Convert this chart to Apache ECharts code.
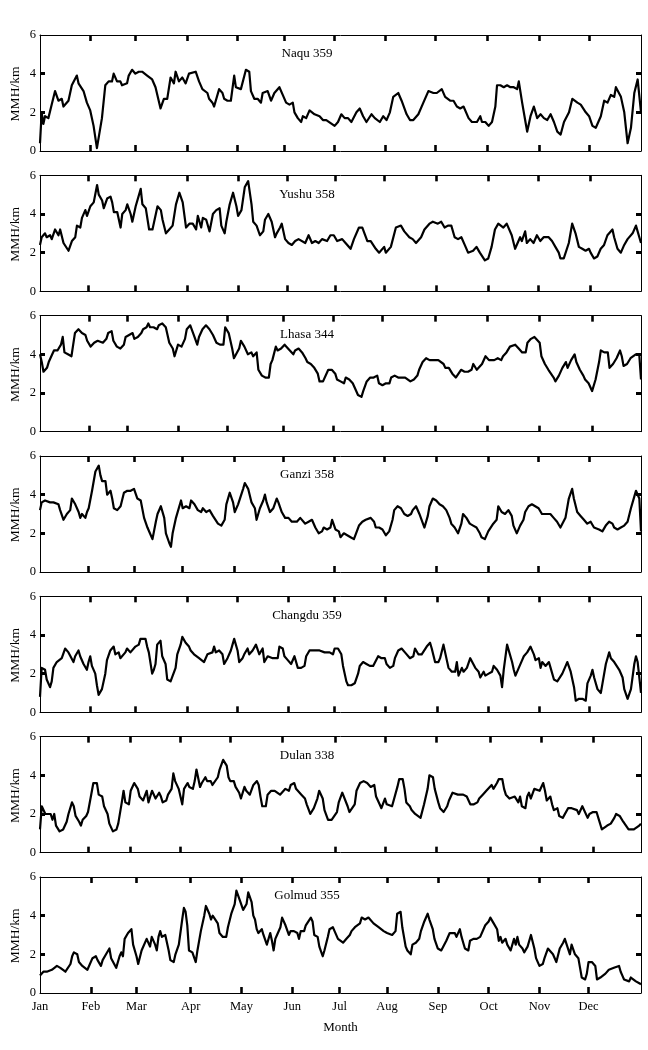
<!DOCTYPE html>
<html>
<head>
<meta charset="utf-8">
<script src="https://cdn.jsdelivr.net/npm/echarts@6/dist/echarts.min.js"></script>
<style>html,body{margin:0;padding:0;background:#fff}#c{width:648px;height:1050px}</style>
</head>
<body>
<div id="c"></div>
<script>
// ---- data: [day index, MMH/km] ----
const stationNames = ['Naqu 359','Yushu 358','Lhasa 344','Ganzi 358','Changdu 359','Dulan 338','Golmud 355'];
const dayCounts = [359, 358, 344, 358, 359, 338, 355];
const monthNames = ['Jan','Feb','Mar','Apr','May','Jun','Jul','Aug','Sep','Oct','Nov','Dec'];

const naquTicks = [30,57,88,118,146,176,206,236,267,298,328];
const yushuTicks = [29,57,88,118,147,176,205,236,267,297,328];
const lhasaTicks = [28,50,79,107,139,168,196,226,256,286,316];
const ganziTicks = [29,56,85,116,145,175,205,236,267,297,327];
const changduTicks = [30,57,88,118,148,176,206,237,268,298,328];
const dulanTicks = [27,51,79,107,136,166,194,223,253,282,311];
const golmudTicks = [30,57,89,119,149,177,205,235,265,295,324];

const naqu = [[0,0.4],[1,2.0],[2,1.4],[3,1.8],[5,1.7],[7,2.4],[9,3.1],[11,2.6],[13,2.7],[14,2.3],[17,2.6],[19,3.4],[22,3.9],[23,3.5],[24,3.6],[26,3.1],[28,2.5],[30,2.1],[32,1.3],[34,0.15],[37,1.7],[39,3.4],[41,3.6],[43,3.6],[44,4.0],[46,3.6],[48,3.6],[49,3.4],[52,3.5],[53,3.9],[55,4.2],[57,4.0],[59,4.1],[61,4.1],[64,3.9],[67,3.7],[69,3.3],[72,2.2],[74,2.7],[76,2.7],[78,3.8],[80,3.5],[81,4.1],[83,3.6],[85,3.8],[87,3.5],[89,4.0],[90,4.0],[93,4.1],[95,3.6],[97,3.2],[100,3.0],[101,2.7],[103,2.5],[104,2.3],[107,3.2],[109,3.0],[110,2.7],[112,2.6],[114,2.6],[116,3.9],[117,3.3],[120,3.2],[121,3.3],[123,4.2],[125,4.1],[126,3.1],[128,2.7],[130,2.7],[132,2.5],[133,3.0],[136,3.1],[138,2.6],[140,3.0],[143,3.3],[145,2.9],[147,2.5],[149,2.4],[151,2.5],[152,2.0],[154,1.7],[156,1.5],[157,1.8],[159,1.7],[161,2.1],[162,2.0],[164,1.9],[167,1.8],[169,1.6],[171,1.6],[172,1.5],[176,1.3],[178,1.5],[180,1.9],[182,1.7],[184,1.7],[186,1.5],[189,2.0],[191,2.2],[193,1.8],[195,1.5],[198,1.9],[200,1.7],[203,1.5],[205,1.8],[207,1.6],[209,2.0],[211,2.8],[214,3.0],[216,2.6],[219,1.9],[221,1.6],[223,1.6],[226,1.9],[229,2.5],[232,3.1],[235,3.0],[237,3.0],[240,3.2],[242,2.8],[245,2.6],[247,2.6],[249,2.3],[251,2.2],[253,2.3],[256,1.7],[258,1.5],[261,1.5],[263,1.8],[264,1.5],[266,1.5],[268,1.3],[270,1.5],[272,2.3],[273,3.4],[275,3.4],[277,3.3],[279,3.4],[281,3.3],[283,3.3],[285,3.2],[286,3.6],[288,2.5],[290,1.5],[291,1.0],[293,1.8],[295,2.3],[297,1.7],[299,1.9],[301,1.7],[303,1.6],[305,1.9],[307,1.5],[309,1.0],[311,0.85],[313,1.5],[316,2.0],[318,2.7],[319,2.7],[321,2.5],[323,2.4],[326,2.0],[328,1.8],[330,1.3],[332,1.2],[335,1.8],[337,2.6],[339,2.5],[341,2.9],[343,2.8],[344,3.3],[347,2.8],[349,2.0],[351,0.4],[353,1.2],[355,3.0],[357,3.7],[359,2.0]];

const yushu = [[0,2.4],[1,2.8],[3,3.0],[4,2.8],[6,2.9],[7,2.7],[9,3.2],[11,2.9],[12,3.2],[14,2.5],[15,2.4],[17,2.1],[19,2.6],[21,2.8],[22,3.4],[24,3.3],[25,3.8],[27,4.2],[28,3.9],[30,4.4],[32,4.6],[34,5.5],[35,5.0],[37,4.7],[38,4.3],[40,4.8],[42,4.9],[43,4.6],[44,4.1],[46,4.1],[48,3.3],[49,4.0],[51,4.2],[52,4.5],[54,4.0],[55,3.6],[57,4.4],[60,5.3],[61,4.5],[63,4.3],[65,3.2],[67,3.2],[68,3.3],[70,4.4],[72,4.2],[73,3.7],[75,3.0],[77,3.2],[79,3.4],[81,4.5],[83,5.1],[85,4.6],[87,3.3],[89,3.5],[91,3.5],[93,3.2],[94,3.9],[96,3.3],[97,3.8],[99,3.7],[101,3.1],[103,4.0],[105,4.2],[107,4.3],[108,3.4],[110,3.0],[111,3.6],[113,4.5],[115,5.1],[117,4.4],[118,3.9],[120,4.2],[122,5.4],[124,5.7],[126,4.5],[127,3.6],[129,3.4],[131,2.9],[133,3.1],[134,3.7],[136,4.0],[138,3.6],[140,2.8],[141,3.0],[143,3.3],[144,3.5],[146,2.7],[148,2.5],[150,2.4],[152,2.6],[154,2.7],[155,2.6],[158,2.5],[160,2.9],[162,2.5],[164,2.6],[166,2.5],[168,2.7],[171,2.6],[173,2.9],[175,2.9],[177,2.6],[180,2.7],[182,2.5],[185,2.2],[187,2.7],[190,3.3],[192,3.3],[195,2.6],[197,2.6],[200,2.2],[202,2.0],[205,2.3],[206,2.0],[209,2.3],[212,3.3],[215,3.4],[217,3.1],[220,2.8],[222,2.7],[224,2.5],[227,2.8],[229,3.2],[232,3.5],[234,3.6],[237,3.5],[239,3.6],[241,3.3],[243,3.4],[245,3.4],[247,2.8],[249,2.7],[251,2.8],[253,2.4],[255,2.0],[258,2.1],[260,2.3],[262,2.0],[265,1.6],[267,1.7],[269,2.3],[271,3.2],[273,3.5],[276,3.3],[278,3.5],[281,2.9],[283,2.2],[286,2.8],[287,2.6],[289,3.1],[290,2.5],[292,2.7],[294,2.5],[296,2.9],[298,2.6],[300,2.8],[303,2.8],[305,2.6],[307,2.3],[309,2.0],[310,1.7],[312,1.7],[315,2.5],[317,3.5],[319,3.0],[321,2.3],[323,2.2],[325,2.1],[327,2.2],[328,2.0],[330,1.7],[332,1.8],[334,2.2],[336,2.4],[338,2.9],[341,3.2],[342,2.8],[344,2.2],[346,2.0],[348,2.4],[350,2.7],[353,3.0],[355,3.4],[358,2.5]];

const lhasa = [[0,4.0],[1,3.6],[2,3.1],[4,3.3],[5,3.6],[7,4.0],[8,4.2],[10,4.2],[12,4.5],[13,4.9],[14,4.1],[16,4.0],[18,3.9],[19,4.5],[20,5.1],[22,5.3],[24,5.1],[26,5.0],[27,4.7],[29,4.4],[31,4.6],[33,4.7],[34,4.8],[36,4.6],[38,4.8],[39,5.1],[41,5.2],[42,4.7],[44,4.4],[46,4.3],[48,4.5],[49,4.9],[51,5.0],[53,5.1],[54,4.8],[56,4.9],[58,5.1],[59,5.3],[61,5.4],[62,5.6],[63,5.4],[65,5.4],[67,5.3],[68,5.5],[70,5.6],[72,5.4],[74,4.6],[76,4.3],[77,3.9],[79,4.5],[81,4.4],[83,4.8],[84,5.3],[86,5.5],[88,5.0],[90,4.5],[91,4.9],[93,5.3],[95,5.5],[97,5.3],[99,5.0],[101,4.6],[103,4.5],[105,4.5],[106,5.4],[108,5.1],[110,4.3],[111,3.8],[112,3.7],[114,4.3],[115,4.7],[117,4.4],[119,4.0],[121,4.1],[122,3.9],[124,4.1],[125,3.2],[127,2.9],[129,2.8],[131,2.8],[132,3.5],[133,3.7],[135,4.4],[136,4.2],[138,4.3],[140,4.5],[141,4.5],[143,4.2],[145,4.0],[146,4.2],[148,4.3],[150,4.1],[152,3.8],[153,3.6],[155,3.5],[157,3.3],[159,3.0],[160,2.6],[162,2.6],[163,2.6],[165,3.2],[167,3.2],[169,3.0],[170,2.7],[172,2.6],[174,2.5],[175,2.8],[177,2.7],[179,2.5],[181,2.1],[182,1.9],[184,1.8],[185,2.1],[187,2.6],[189,2.8],[191,2.8],[193,2.9],[194,2.5],[196,2.4],[198,2.5],[200,2.5],[201,2.8],[203,2.9],[205,2.8],[207,2.8],[209,2.8],[210,2.7],[212,2.6],[214,2.7],[216,2.9],[217,3.2],[219,3.6],[221,3.8],[223,3.7],[225,3.7],[228,3.7],[229,3.7],[231,3.5],[232,3.3],[234,3.3],[236,3.0],[238,2.8],[239,2.9],[241,3.2],[243,3.1],[245,3.1],[247,3.2],[248,3.5],[250,3.2],[251,3.3],[253,3.5],[255,3.9],[257,3.7],[258,3.7],[260,3.7],[262,3.8],[264,3.7],[265,3.9],[267,4.1],[269,4.4],[270,4.4],[272,4.5],[274,4.3],[276,4.1],[278,4.1],[279,4.6],[281,4.8],[283,4.9],[284,5.0],[286,4.6],[287,3.9],[289,3.5],[291,3.2],[292,3.3],[294,2.8],[295,2.6],[297,2.9],[299,3.3],[301,3.6],[302,3.3],[304,3.7],[306,4.0],[307,3.6],[309,3.2],[311,2.9],[312,2.7],[314,2.5],[316,2.1],[318,2.7],[320,3.6],[321,4.2],[323,4.1],[325,4.1],[326,3.3],[328,3.5],[330,3.8],[331,3.7],[332,4.2],[333,3.9],[334,3.4],[336,3.5],[338,3.8],[339,3.9],[341,4.0],[343,4.0],[344,2.7]];

const ganzi = [[0,3.2],[1,3.6],[3,3.7],[4,3.6],[6,3.6],[8,3.6],[9,3.7],[11,3.5],[12,3.2],[14,2.7],[16,3.0],[18,3.2],[19,3.8],[21,3.5],[23,3.1],[24,2.8],[25,3.0],[27,2.8],[28,3.1],[29,3.3],[31,4.2],[33,5.2],[35,5.5],[36,5.0],[37,4.7],[39,4.7],[40,4.0],[42,4.2],[43,3.8],[44,3.3],[46,3.2],[48,3.4],[50,4.1],[52,4.2],[54,4.2],[55,4.1],[56,4.3],[58,3.8],[60,3.7],[62,2.8],[64,2.3],[66,1.9],[67,1.7],[69,2.6],[70,3.0],[72,3.4],[74,2.8],[75,2.0],[77,1.5],[78,1.3],[79,2.0],[81,2.8],[84,3.7],[85,3.3],[87,3.4],[89,3.3],[90,3.7],[92,3.5],[94,3.2],[96,3.1],[97,3.3],[99,3.1],[101,3.2],[103,2.9],[104,3.0],[106,2.5],[108,2.4],[110,2.7],[111,3.5],[113,4.1],[115,3.6],[116,3.1],[118,3.5],[121,4.3],[122,4.6],[124,4.3],[126,3.6],[128,3.3],[129,2.7],[131,3.3],[133,3.7],[134,4.0],[135,3.6],[137,3.1],[139,3.3],[141,3.8],[142,3.6],[144,3.1],[146,2.8],[148,2.8],[150,2.6],[151,2.7],[153,2.6],[155,2.8],[156,2.7],[158,2.5],[160,2.6],[162,2.7],[164,2.3],[166,2.0],[168,2.1],[169,2.3],[171,2.2],[173,2.3],[174,2.7],[176,2.2],[178,2.1],[179,1.8],[181,2.0],[183,1.9],[185,1.8],[187,1.7],[188,1.8],[190,2.4],[192,2.6],[194,2.7],[195,2.6],[197,2.8],[199,2.6],[200,2.3],[202,2.3],[204,2.2],[206,1.9],[208,2.1],[210,2.7],[211,3.2],[213,3.4],[215,3.3],[217,3.0],[219,2.9],[221,3.0],[222,3.2],[224,3.4],[226,3.0],[227,2.9],[229,2.3],[231,2.9],[232,3.4],[234,3.8],[236,3.7],[238,3.5],[240,3.4],[242,3.2],[244,2.8],[245,2.5],[247,2.3],[249,2.0],[251,2.5],[252,3.0],[254,2.8],[256,2.5],[258,2.4],[260,2.3],[262,2.0],[263,1.8],[265,1.7],[267,2.1],[268,2.2],[270,2.5],[272,2.7],[273,3.4],[275,3.1],[277,3.0],[279,3.2],[281,2.9],[282,2.4],[284,2.0],[286,2.4],[288,2.7],[289,3.1],[291,3.4],[293,3.5],[295,3.4],[297,3.3],[299,3.0],[300,2.9],[302,3.0],[304,3.0],[306,2.8],[308,2.6],[310,2.3],[311,2.4],[313,2.8],[315,3.8],[317,4.3],[318,3.8],[320,3.1],[322,2.9],[324,2.7],[326,2.5],[328,2.6],[330,2.3],[331,2.4],[333,2.2],[335,2.1],[337,2.4],[339,2.6],[341,2.5],[342,2.3],[344,2.2],[346,2.3],[348,2.4],[350,2.6],[352,3.3],[354,3.9],[355,4.2],[357,3.8],[358,2.1]];

const changdu = [[0,0.8],[1,2.3],[2,2.4],[3,2.2],[4,1.7],[6,1.3],[7,1.6],[8,2.3],[10,2.6],[11,2.6],[13,2.8],[14,2.7],[15,3.3],[17,3.1],[18,3.0],[20,2.6],[21,2.9],[23,3.2],[24,2.9],[25,2.8],[26,2.5],[28,2.2],[29,2.6],[30,2.9],[31,2.4],[33,2.0],[34,1.4],[35,0.9],[37,1.2],[39,2.0],[40,2.7],[42,3.2],[44,3.4],[45,3.0],[47,3.1],[48,2.8],[49,2.9],[51,3.1],[52,3.3],[54,3.1],[55,3.2],[57,3.4],[59,3.5],[60,3.8],[61,3.9],[63,3.8],[64,3.4],[65,3.1],[67,2.0],[68,2.2],[69,2.5],[70,3.5],[72,3.7],[73,2.9],[75,2.5],[76,1.7],[78,1.6],[79,1.7],[81,2.3],[82,3.0],[84,3.5],[85,3.9],[87,3.6],[89,3.4],[90,3.2],[92,3.0],[93,3.1],[95,2.8],[96,2.8],[98,2.6],[100,3.0],[101,3.1],[103,3.1],[104,3.4],[105,3.1],[107,3.2],[109,3.0],[110,2.5],[112,2.8],[114,3.2],[115,3.5],[116,3.8],[118,3.2],[119,2.6],[121,2.8],[122,3.0],[124,3.3],[125,3.0],[127,3.2],[129,3.5],[130,3.4],[131,3.0],[133,3.3],[134,2.6],[136,2.9],[137,2.9],[139,2.8],[140,2.9],[142,2.8],[143,3.4],[145,3.3],[146,2.9],[148,2.7],[150,2.5],[151,2.4],[152,2.9],[154,2.3],[156,2.3],[158,2.4],[159,2.9],[161,3.2],[163,3.2],[165,3.2],[167,3.2],[168,3.2],[170,3.1],[171,3.0],[173,3.1],[175,3.0],[176,3.3],[178,3.3],[180,3.0],[181,2.4],[183,1.6],[184,1.4],[186,1.4],[188,1.5],[190,2.0],[191,2.4],[193,2.6],[195,2.5],[197,2.4],[199,2.4],[200,2.5],[202,2.9],[204,2.8],[206,2.8],[207,2.5],[209,2.3],[211,2.4],[212,2.8],[214,3.2],[216,3.3],[218,3.1],[219,3.0],[221,2.8],[223,2.9],[224,3.3],[226,3.0],[228,3.0],[229,3.1],[231,3.4],[233,3.6],[234,3.3],[236,2.6],[238,2.6],[239,2.8],[241,3.5],[243,2.7],[244,2.3],[246,2.1],[248,2.1],[249,2.6],[250,1.9],[252,2.3],[253,2.1],[255,2.3],[257,2.8],[258,2.7],[260,2.3],[262,2.1],[263,1.8],[265,2.1],[266,1.9],[268,2.0],[270,2.1],[271,2.4],[273,2.2],[275,1.9],[276,1.3],[277,2.2],[279,3.5],[280,3.6],[282,2.6],[283,2.2],[284,1.9],[286,2.3],[288,2.7],[289,2.9],[291,3.1],[293,3.4],[295,3.0],[296,2.7],[298,2.8],[299,2.3],[300,2.6],[302,2.4],[304,2.6],[305,2.3],[307,1.7],[309,1.6],[310,1.6],[312,2.0],[314,2.4],[315,2.6],[317,2.1],[319,1.3],[320,0.6],[322,0.7],[324,0.7],[326,0.6],[327,1.5],[329,1.9],[330,2.2],[331,1.8],[333,1.2],[335,1.0],[336,1.5],[338,2.5],[340,3.1],[341,2.8],[343,2.6],[344,2.6],[346,2.2],[348,1.8],[349,1.2],[351,0.7],[353,1.2],[355,2.5],[356,2.9],[357,2.6],[359,1.0]];

const dulan = [[0,1.2],[1,2.4],[2,2.3],[3,2.0],[4,2.1],[6,2.0],[7,1.7],[8,2.0],[9,1.4],[11,1.1],[13,1.2],[15,1.6],[16,2.0],[18,2.6],[19,2.4],[20,1.9],[22,1.6],[23,1.4],[24,1.7],[26,1.9],[27,2.1],[29,3.1],[30,3.6],[32,3.6],[33,3.0],[35,2.9],[36,2.4],[38,2.0],[39,1.5],[41,1.1],[43,1.2],[44,1.5],[46,2.6],[47,3.2],[48,2.6],[49,2.7],[50,2.5],[51,3.2],[53,3.6],[55,3.3],[56,2.9],[58,2.7],[59,2.8],[60,3.2],[61,2.6],[63,3.2],[64,3.2],[65,2.8],[67,3.1],[68,2.9],[69,2.6],[71,2.7],[72,3.0],[74,3.3],[75,4.1],[76,3.7],[78,3.3],[80,2.5],[81,3.3],[83,3.6],[84,3.4],[86,3.3],[87,3.7],[88,4.3],[90,3.4],[91,3.6],[93,3.9],[94,3.7],[96,3.7],[97,3.5],[98,3.5],[100,3.9],[101,4.3],[103,4.8],[105,4.5],[106,3.9],[107,3.7],[109,3.7],[110,3.4],[111,3.3],[112,3.1],[113,2.8],[115,3.4],[116,3.2],[117,3.2],[118,3.0],[120,3.5],[122,3.7],[123,3.5],[124,2.9],[125,2.4],[127,2.4],[128,3.0],[130,3.2],[132,3.2],[133,3.1],[135,3.0],[136,2.9],[138,3.3],[140,3.2],[141,3.5],[143,3.6],[144,3.3],[145,3.4],[147,3.0],[149,2.8],[150,2.5],[152,2.0],[154,2.3],[156,2.8],[157,3.2],[159,2.8],[160,2.2],[162,1.7],[164,1.7],[165,1.6],[167,2.1],[168,2.6],[170,3.1],[171,3.1],[173,2.4],[174,2.1],[175,2.0],[177,2.5],[178,3.2],[180,3.6],[182,3.7],[184,3.6],[185,3.5],[186,3.4],[188,3.5],[189,2.9],[191,2.5],[192,2.3],[194,2.8],[195,2.5],[196,2.4],[198,2.4],[199,2.4],[201,3.4],[202,3.8],[204,3.8],[205,3.3],[206,2.6],[208,2.4],[209,2.2],[211,2.0],[212,2.0],[214,1.8],[215,1.8],[216,2.5],[218,3.3],[219,4.0],[221,3.9],[222,3.3],[224,2.6],[225,2.3],[227,2.1],[229,2.4],[230,2.7],[232,3.1],[233,3.1],[235,3.0],[236,3.1],[238,3.0],[239,3.1],[240,2.9],[242,2.5],[244,2.5],[246,2.6],[247,2.8],[249,3.0],[251,3.2],[252,3.3],[254,3.5],[255,3.3],[257,3.6],[258,3.8],[260,3.8],[261,3.3],[262,3.0],[264,2.8],[265,2.8],[267,2.9],[269,2.6],[270,2.9],[271,2.4],[273,2.3],[274,2.9],[275,3.1],[276,2.8],[278,3.3],[279,3.2],[281,3.2],[282,3.2],[283,3.6],[284,3.2],[285,2.7],[287,2.9],[288,2.5],[289,2.2],[291,2.3],[292,1.9],[294,1.8],[295,1.9],[297,2.3],[299,2.3],[300,2.2],[302,2.2],[303,2.0],[305,2.4],[306,2.3],[308,1.8],[309,2.0],[311,2.1],[313,2.1],[314,1.8],[316,1.2],[317,1.3],[319,1.4],[321,1.5],[323,1.8],[324,2.0],[326,1.9],[328,1.6],[329,1.5],[331,1.2],[332,1.1],[334,1.2],[335,1.3],[337,1.4],[338,1.5]];

const golmud = [[0,0.9],[1,1.0],[2,1.1],[4,1.1],[5,1.05],[7,1.2],[8,1.3],[10,1.4],[12,1.3],[13,1.2],[15,1.1],[16,1.1],[18,1.5],[19,1.9],[20,2.1],[22,2.0],[23,1.6],[25,1.4],[26,1.3],[28,1.2],[29,1.3],[31,1.8],[33,1.9],[34,1.7],[36,1.4],[37,1.7],[39,2.0],[40,1.9],[41,2.3],[42,1.8],[43,1.7],[45,1.3],[47,1.9],[48,2.1],[49,1.9],[50,2.8],[52,3.1],[53,3.0],[54,3.3],[55,2.5],[57,1.9],[58,1.5],[59,1.6],[60,2.2],[61,2.1],[63,2.8],[64,2.7],[65,2.4],[66,2.9],[68,2.5],[69,2.2],[70,2.9],[71,3.2],[72,2.9],[74,3.0],[75,2.6],[76,2.2],[77,1.7],[79,1.6],[80,2.0],[82,2.5],[84,3.8],[85,4.4],[86,4.2],[87,3.5],[88,2.2],[90,2.1],[91,2.0],[92,1.6],[93,2.2],[95,3.2],[97,4.0],[98,4.5],[100,4.1],[101,3.8],[102,4.0],[103,3.9],[105,3.6],[106,3.1],[108,2.9],[110,2.9],[111,3.4],[113,4.1],[115,4.6],[116,5.3],[118,4.8],[120,4.3],[121,4.2],[122,4.6],[123,5.2],[125,4.7],[126,4.0],[127,3.8],[128,3.3],[129,3.1],[131,3.3],[132,3.0],[133,3.0],[134,2.5],[136,3.1],[137,2.7],[138,2.2],[139,2.8],[140,3.0],[142,3.4],[143,3.9],[145,3.5],[147,3.0],[148,3.2],[150,3.2],[152,3.1],[153,2.8],[154,3.2],[156,3.2],[157,3.5],[158,3.4],[160,3.9],[161,3.7],[162,3.0],[164,2.9],[165,2.4],[167,1.9],[168,2.2],[170,2.9],[171,3.3],[173,3.4],[174,3.2],[176,2.8],[177,2.7],[179,2.6],[181,2.8],[183,3.0],[184,3.2],[186,3.4],[187,3.4],[189,3.6],[190,3.9],[192,3.8],[194,3.9],[195,3.8],[197,3.6],[198,3.5],[200,3.4],[201,3.3],[203,3.2],[205,3.1],[206,3.0],[208,3.0],[210,3.2],[211,4.1],[213,4.2],[214,3.4],[216,2.4],[217,2.2],[219,2.0],[220,2.5],[222,2.6],[224,2.8],[225,3.2],[227,3.7],[229,4.1],[230,3.8],[232,3.3],[233,2.8],[235,2.3],[237,2.2],[238,2.2],[240,2.7],[242,3.1],[243,3.0],[245,3.1],[246,2.9],[248,3.3],[249,2.9],[250,2.6],[251,2.3],[253,2.2],[254,2.7],[256,2.8],[258,2.8],[260,2.9],[261,3.0],[263,3.5],[265,3.7],[266,3.9],[268,3.6],[270,3.3],[271,2.7],[272,2.9],[273,2.6],[275,2.8],[276,2.5],[278,2.2],[280,2.8],[281,2.5],[282,2.9],[283,2.5],[285,2.3],[286,2.1],[288,2.4],[289,2.5],[290,3.0],[292,2.3],[293,1.8],[295,1.4],[297,1.5],[298,1.8],[300,2.3],[301,2.2],[303,2.0],[305,1.6],[306,1.5],[307,2.3],[309,2.6],[310,2.8],[311,2.7],[313,2.0],[314,2.5],[315,2.5],[316,2.0],[318,1.8],[319,1.3],[320,0.8],[322,0.7],[323,1.0],[324,1.6],[326,1.6],[328,1.4],[329,0.7],[331,0.8],[332,0.9],[334,1.0],[336,1.2],[337,1.1],[339,1.3],[340,1.2],[342,1.4],[343,1.1],[344,0.9],[345,0.7],[346,0.8],[348,0.6],[349,0.8],[350,0.7],[352,0.6],[354,0.5],[355,0.45]];

const yTicks = [0, 2, 4, 6];

// ---- build ----
const seriesData = [naqu, yushu, lhasa, ganzi, changdu, dulan, golmud];
const monthTicks = [naquTicks, yushuTicks, lhasaTicks, ganziTicks, changduTicks, dulanTicks, golmudTicks];
const FONT = '"Liberation Serif", "Times New Roman", serif';
const LEFT = 40, WIDTH = 601, TOP0 = 35, STEP = 140.33, H = 116;

const grids = [], xAxes = [], yAxes = [], series = [], graphics = [];
const lastIdx = seriesData.length - 1;
const labelDays = [0].concat(golmudTicks);

seriesData.forEach((d, i) => {
  const top = TOP0 + i * STEP;
  grids.push({ left: LEFT, top: top, width: WIDTH, height: H, containLabel: false });
  const isLast = i === lastIdx;
  const tickCfg = { show: true, inside: true, length: 6, lineStyle: { color: '#000', width: 2.6 }, customValues: monthTicks[i] };
  xAxes.push({
    type: 'value', gridIndex: i, position: 'bottom', min: 0, max: dayCounts[i],
    axisLine: { show: true, onZero: false, lineStyle: { color: '#000', width: 1 } },
    axisTick: tickCfg,
    splitLine: { show: false },
    axisLabel: isLast ? {
      show: true, customValues: labelDays, color: '#000', fontFamily: FONT, fontSize: 12.5, margin: 7,
      formatter: v => monthNames[labelDays.indexOf(v)] || ''
    } : { show: false }
  });
  xAxes.push({
    type: 'value', gridIndex: i, position: 'top', min: 0, max: dayCounts[i],
    axisLine: { show: true, onZero: false, lineStyle: { color: '#000', width: 1 } },
    axisTick: tickCfg, splitLine: { show: false }, axisLabel: { show: false }
  });
  const yTickCfg = { show: true, inside: true, length: 5, lineStyle: { color: '#000', width: 3 }, customValues: [2, 4] };
  yAxes.push({
    type: 'value', gridIndex: i, position: 'left', min: 0, max: 6, interval: 2,
    axisLine: { show: true, onZero: false, lineStyle: { color: '#000', width: 1 } },
    axisTick: yTickCfg, splitLine: { show: false },
    axisLabel: { show: true, color: '#000', fontFamily: FONT, fontSize: 12.5, margin: 4, customValues: yTicks }
  });
  yAxes.push({
    type: 'value', gridIndex: i, position: 'right', min: 0, max: 6, interval: 2,
    axisLine: { show: true, onZero: false, lineStyle: { color: '#000', width: 1 } },
    axisTick: yTickCfg, splitLine: { show: false }, axisLabel: { show: false }
  });
  series.push({
    type: 'line', xAxisIndex: 2 * i, yAxisIndex: 2 * i, data: d,
    showSymbol: false, symbol: 'none', smooth: false, silent: true,
    lineStyle: { color: '#000', width: 2.2, join: 'round' }
  });
  graphics.push({
    type: 'text', x: 307, y: top + 19, silent: true,
    style: { text: stationNames[i], fill: '#000', font: '13px ' + FONT, align: 'center', verticalAlign: 'middle' }
  });
  graphics.push({
    type: 'text', x: 15, y: top + H / 2 + 1, rotation: Math.PI / 2, silent: true,
    style: { text: 'MMH/km', fill: '#000', font: '13.5px ' + FONT, align: 'center', verticalAlign: 'middle' }
  });
});
graphics.push({
  type: 'text', x: LEFT + WIDTH / 2, y: 1028, silent: true,
  style: { text: 'Month', fill: '#000', font: '13px ' + FONT, align: 'center', verticalAlign: 'middle' }
});

const chart = echarts.init(document.getElementById('c'), null, { renderer: 'canvas' });
chart.setOption({
  animation: false,
  backgroundColor: '#fff',
  grid: grids, xAxis: xAxes, yAxis: yAxes, series: series, graphic: graphics
});
</script>
</body>
</html>
